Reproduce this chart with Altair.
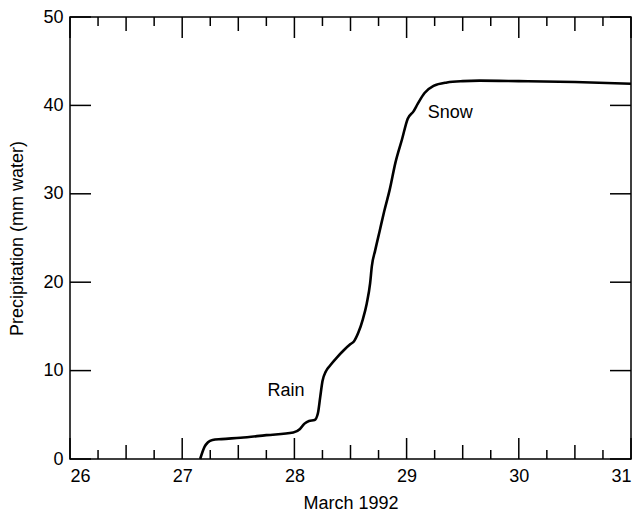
import altair as alt
import pandas as pd

# Precipitation curve (day of March 1992, mm water)
days = [27.16, 27.20, 27.23, 27.27, 27.35, 27.52, 27.75, 27.99, 28.05, 28.09,
        28.13, 28.18, 28.21, 28.23, 28.25, 28.28, 28.32, 28.38, 28.44, 28.50,
        28.53, 28.57, 28.61, 28.645, 28.675, 28.69, 28.72, 28.76, 28.80, 28.85,
        28.90, 28.96, 29.01, 29.06, 29.10, 29.16, 29.24, 29.36, 29.50, 29.65,
        30.00, 30.50, 31.00]
precip = [0.0, 1.4, 1.9, 2.15, 2.25, 2.4, 2.7, 3.0, 3.4, 4.0,
          4.3, 4.4, 5.2, 7.0, 8.8, 9.9, 10.6, 11.5, 12.3, 13.0,
          13.3, 14.3, 15.8, 17.6, 19.9, 21.8, 23.6, 25.8, 28.0, 30.5,
          33.5, 36.2, 38.5, 39.3, 40.2, 41.4, 42.2, 42.6, 42.75, 42.8,
          42.75, 42.65, 42.45]

# Annotations
ann_text = ["Rain", "Snow"]
ann_x = [27.925, 29.39]
ann_y = [7.7, 39.1]

# Tick marks
x_major = [26, 27, 28, 29, 30, 31]
x_half = [26.5, 27.5, 28.5, 29.5, 30.5]
x_quarter = [26.25, 26.75, 27.25, 27.75, 28.25, 28.75, 29.25, 29.75, 30.25, 30.75]
y_ticks = [0, 10, 20, 30, 40, 50]

W, H = 561, 442
FONT = "Liberation Sans"
FS = 18

line_df = pd.DataFrame({"day": days, "precip": precip})
ann_df = pd.DataFrame({"label": ann_text, "day": ann_x, "precip": ann_y})

xscale = alt.Scale(domain=[26, 31], nice=False, zero=False)
yscale = alt.Scale(domain=[0, 50], nice=False)

xaxis = alt.Axis(values=x_major, title="March 1992", format="d", ticks=False,
                 tickSize=0, domain=False, grid=False, labelPadding=8,
                 titlePadding=9)
yaxis = alt.Axis(values=y_ticks, title="Precipitation (mm water)", format="d",
                 ticks=False, tickSize=0, domain=False, grid=False,
                 labelPadding=7, titlePadding=16)

line = alt.Chart(line_df).mark_line(color="black", strokeWidth=2.6,
                                    interpolate="monotone").encode(
    x=alt.X("day:Q", scale=xscale, axis=xaxis),
    y=alt.Y("precip:Q", scale=yscale, axis=yaxis),
)

text = alt.Chart(ann_df).mark_text(fontSize=FS, font=FONT, color="black").encode(
    x=alt.X("day:Q", scale=xscale),
    y=alt.Y("precip:Q", scale=yscale),
    text="label:N",
)


def xticks(vals, length, bottom=True):
    df = pd.DataFrame({"t": vals})
    if bottom:
        yy, yy2 = alt.value(H), alt.value(H - length)
    else:
        yy, yy2 = alt.value(0), alt.value(length)
    return alt.Chart(df).mark_rule(color="black", strokeWidth=1.5).encode(
        x=alt.X("t:Q", scale=xscale), y=yy, y2=yy2)


def yticks(vals, length, left=True):
    df = pd.DataFrame({"v": vals})
    if left:
        xx, xx2 = alt.value(0), alt.value(length)
    else:
        xx, xx2 = alt.value(W - length), alt.value(W)
    return alt.Chart(df).mark_rule(color="black", strokeWidth=1.5).encode(
        y=alt.Y("v:Q", scale=yscale), x=xx, x2=xx2)


layers = [line, text]
for b in (True, False):
    layers += [xticks(x_major, 21, b), xticks(x_half, 14, b), xticks(x_quarter, 9, b)]
layers += [yticks(y_ticks, 21, True), yticks(y_ticks, 21, False)]

chart = alt.layer(*layers).properties(
    width=W, height=H,
    padding={"left": 70, "top": 17, "right": 10, "bottom": 54},
    autosize=alt.AutoSizeParams(type="none"),
    background="white",
).configure_view(
    stroke="black", strokeWidth=1.5
).configure_axis(
    labelFont=FONT, titleFont=FONT, labelFontSize=FS, titleFontSize=FS,
    labelColor="black", titleColor="black", titleFontWeight="normal",
)

chart.save("out.html", embed_options={"renderer": "svg", "actions": False})
